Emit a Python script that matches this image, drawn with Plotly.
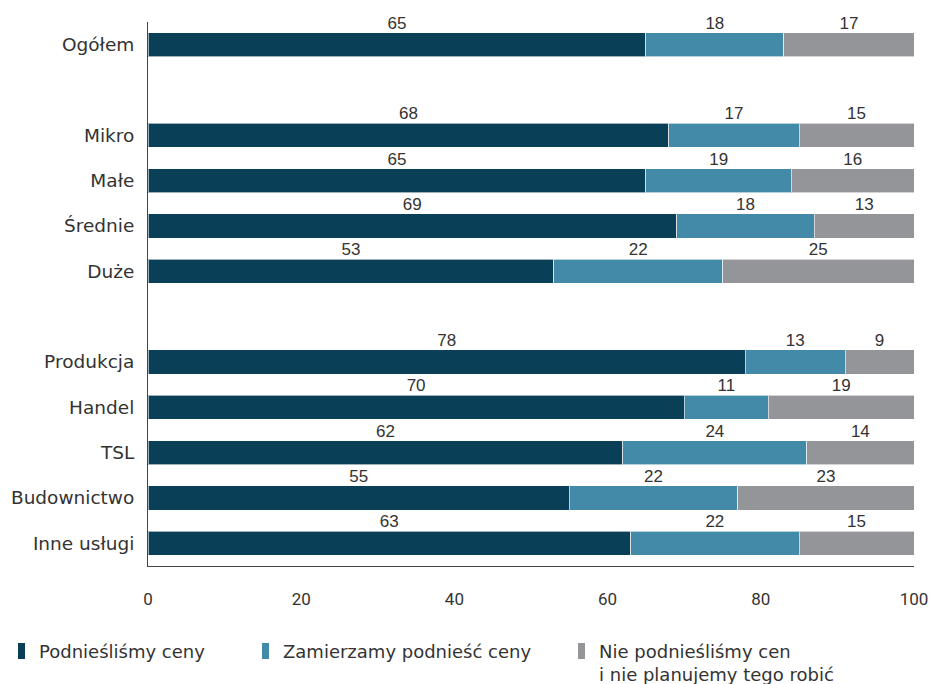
import plotly.graph_objects as go

categories = ["Ogółem", "", "Mikro", "Małe", "Średnie", "Duże", "",
              "Produkcja", "Handel", "TSL", "Budownictwo", "Inne usługi"]
raised = [65, None, 68, 65, 69, 53, None, 78, 70, 62, 55, 63]
planning = [18, None, 17, 19, 18, 22, None, 13, 11, 24, 22, 22]
not_planning = [17, None, 15, 16, 13, 25, None, 9, 19, 14, 23, 15]

series_names = ["Podnieśliśmy ceny", "Zamierzamy podnieść ceny",
                "Nie podnieśliśmy cen<br>i nie planujemy tego robić"]
colors = ["#0a3f58", "#4389a8", "#939598"]
x_ticks = [0, 20, 40, 60, 80, 100]

ypos = list(range(len(categories)))
series = [raised, planning, not_planning]

fig = go.Figure()
for vals, name, col in zip(series, series_names, colors):
    fig.add_trace(go.Bar(
        y=ypos, x=vals, orientation="h", name=name,
        marker=dict(color=col, line=dict(color="rgba(255,255,255,0.6)", width=1)),
        width=0.53, showlegend=False, hoverinfo="skip"))

# labels above segment centers
lx, ly, lt = [], [], []
for i in ypos:
    start = 0
    for vals in series:
        v = vals[i]
        if v is None:
            continue
        lx.append(start + v / 2)
        ly.append(i - 0.45)
        lt.append(str(v))
        start += v
fig.add_trace(go.Scatter(
    x=lx, y=ly, text=lt, mode="text", textposition="middle center",
    textfont=dict(family="Liberation Sans, Arial", size=17, color="#333333"),
    cliponaxis=False, showlegend=False, hoverinfo="skip"))

fig.update_layout(
    barmode="stack",
    width=931, height=684,
    margin=dict(l=148, r=17, t=22, b=118, autoexpand=False),
    plot_bgcolor="white", paper_bgcolor="white",
    xaxis=dict(range=[0, 100], tickvals=x_ticks, showgrid=False, zeroline=False,
               showline=True, linecolor="#444444", linewidth=1, automargin=False,
               ticks="", ticklabelstandoff=18,
               tickfont=dict(family="Roboto", size=17, color="#333333")),
    yaxis=dict(tickvals=ypos, ticktext=categories, range=[11.5, -0.5],
               showgrid=False, zeroline=False, showline=True, automargin=False,
               linecolor="#444444", linewidth=1, ticks="",
               ticklabelstandoff=9,
               tickfont=dict(family="DejaVu Sans", size=18.5, color="#333333")),
)

# custom legend (paper coordinates derived from pixel layout)
def py(pix):
    return 1 - (pix - 22) / 544

def px(pix):
    return (pix - 148) / 766

leg_x = [18, 262, 578]
for xp, name, col in zip(leg_x, series_names, colors):
    fig.add_shape(type="rect", xref="paper", yref="paper",
                  x0=px(xp), x1=px(xp + 7), y0=py(659), y1=py(643),
                  fillcolor=col, line=dict(width=0))
    fig.add_annotation(xref="paper", yref="paper",
                       x=px(xp + 20), y=py(640),
                       xanchor="left", yanchor="top", align="left",
                       text=name, showarrow=False, borderpad=0,
                       font=dict(family="DejaVu Sans", size=18, color="#333333"))

fig.write_html("out.html")
